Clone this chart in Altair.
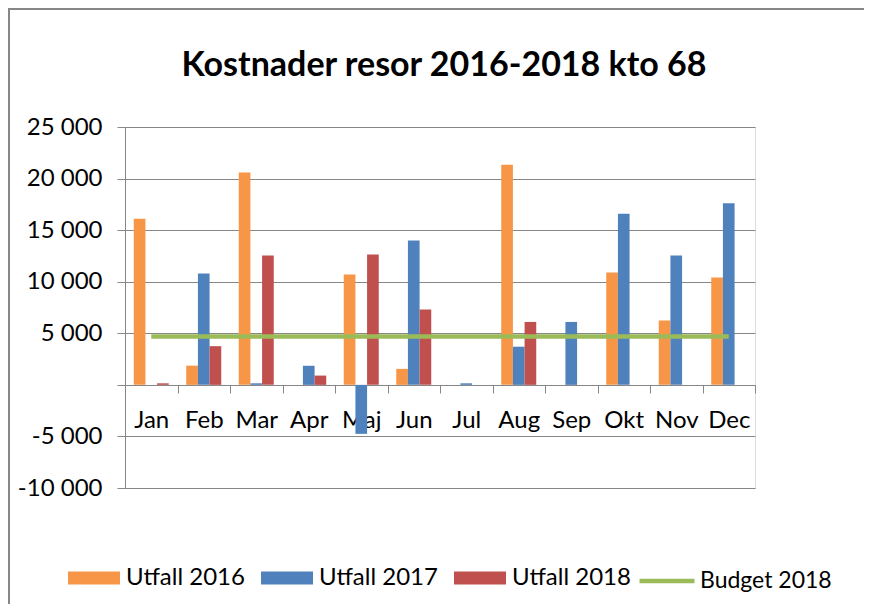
import altair as alt
import pandas as pd

months = ["Jan", "Feb", "Mar", "Apr", "Maj", "Jun", "Jul", "Aug", "Sep", "Okt", "Nov", "Dec"]
utfall_2016 = [16100, 1860, 20600, 0, 10700, 1550, 0, 21350, 0, 10900, 6250, 10400]
utfall_2017 = [0, 10800, 150, 1850, -4750, 14000, 150, 3700, 6100, 16600, 12550, 17600]
utfall_2018 = [150, 3750, 12550, 900, 12650, 7300, 0, 6100, 0, 0, 0, 0]
budget_2018 = [4700, 4700, 4700, 4700, 4700, 4700, 4700, 4700, 4700, 4700, 4700, 4700]

bar_series = ["Utfall 2016", "Utfall 2017", "Utfall 2018"]
bar_colors = ["#F79646", "#4F81BD", "#C0504D"]
line_series = ["Budget 2018"]
line_colors = ["#9BBB59"]
y_ticks = [-10000, -5000, 0, 5000, 10000, 15000, 20000, 25000]

rows = []
for name, vals in zip(bar_series, [utfall_2016, utfall_2017, utfall_2018]):
    for m, v in zip(months, vals):
        rows.append({"month": m, "series": name, "value": v})
bars_df = pd.DataFrame(rows)
budget_df = pd.DataFrame({"month": months, "series": "Budget 2018", "value": budget_2018})

FONT = "Lato"
GREY = "#878787"
FS = 24

x_enc = alt.X(
    "month:N", sort=months,
    scale=alt.Scale(paddingInner=0, paddingOuter=0),
    axis=alt.Axis(title=None, labelAngle=0, offset=-103, domainColor=GREY, tickColor=GREY,
                  tickSize=8, tickBand="extent", labelFontSize=FS, labelFont=FONT,
                  labelColor="black", labelPadding=15, grid=False),
)
y_enc = alt.Y(
    "value:Q",
    scale=alt.Scale(domain=[-10000, 25000], nice=False),
    axis=alt.Axis(title=None, values=y_ticks, grid=True, gridColor=GREY, domainColor=GREY,
                  tickColor=GREY, tickSize=8, labelFontSize=FS, labelFont=FONT,
                  labelColor="black", labelPadding=15,
                  labelExpr="datum.value == 0 ? '' : replace(replace(format(datum.value, ','), ',', ' '), '\u2212', '-')"),
)

bar_legend = alt.Legend(
    orient="none", legendX=-57, legendY=425, direction="horizontal", title=None,
    symbolSize=2704, symbolType="M-1,-0.25H1V0.25H-1Z", symbolStrokeWidth=0, symbolOpacity=1,
    labelFontSize=FS, labelFont=FONT, labelColor="black", labelOffset=6,
    columnPadding=16, padding=0, labelLimit=300,
)
line_legend = alt.Legend(
    orient="none", legendX=512, legendY=424, direction="horizontal", title=None,
    symbolSize=3025, symbolType="stroke", symbolStrokeWidth=4.5, symbolOpacity=1,
    labelFontSize=23, labelFont=FONT, labelColor="black", labelOffset=3,
    padding=0, labelLimit=300,
)

bars = alt.Chart(bars_df).mark_bar(opacity=1).encode(
    x=x_enc, y=y_enc,
    xOffset=alt.XOffset("series:N", sort=bar_series, scale=alt.Scale(paddingOuter=0.75, paddingInner=0)),
    color=alt.Color("series:N", scale=alt.Scale(domain=bar_series, range=bar_colors), legend=bar_legend),
)
line = alt.Chart(budget_df).mark_line(strokeWidth=4.5).encode(
    x=x_enc, y=y_enc,
    stroke=alt.Stroke("series:N", scale=alt.Scale(domain=line_series, range=line_colors), legend=line_legend),
)

frame = alt.Chart(pd.DataFrame({"a": [0]})).mark_rect(fill=None, stroke=GREY, strokeWidth=2).encode(
    x=alt.value(-116), x2=alt.value(800), y=alt.value(-118), y2=alt.value(600)
)

chart = alt.layer(frame, bars, line).properties(
    width=630, height=361, autosize="none",
    padding={"left": 117, "top": 119, "right": 109, "bottom": 116},
    title=alt.Title("Kostnader resor 2016-2018 kto 68", fontSize=34, font=FONT, fontWeight="bold",
                    color="black", offset=-102, anchor="middle", frame="group", baseline="alphabetic",
                    dx=4),
).resolve_scale(color="independent").configure_view(stroke=None).configure(font=FONT)

chart.save("out.html", embed_options={"renderer": "svg", "actions": False})
